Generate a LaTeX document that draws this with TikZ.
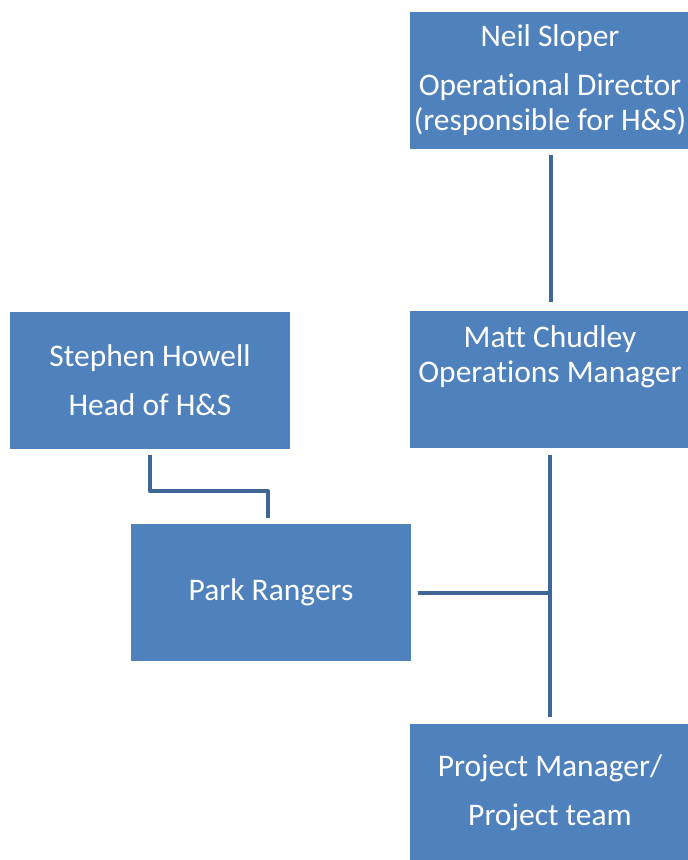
\documentclass[tikz,border=0pt]{standalone}
\usepackage{fontspec}
\setmainfont{Carlito}[Ligatures=NoCommon]
\usetikzlibrary{positioning,calc}
\definecolor{boxblue}{HTML}{4F81BD}
\definecolor{lineblue}{HTML}{3E6697}
\begin{document}
\begin{tikzpicture}[
        x=0.75pt, y=-0.75pt,
        block/.style={rectangle, draw=none, fill=boxblue, minimum width=210pt, minimum height=102.75pt, text=white, align=center, font=\fontsize{23.6}{26.25}\selectfont, inner sep=0pt},
        link/.style={draw=lineblue, line width=3pt, line join=round}
    ]
    \useasboundingbox (0,0) rectangle (687,860);
    
    \node[block] (director) at (550,80) {Neil Sloper\\[10.5pt]Operational Director\\(responsible for H\&S)};
    \node[block] (manager) at (550,379.5) {Matt Chudley\\Operations Manager\\[12pt]\mbox{}};
    \node[block] (hshead) at (150,380.5) {Stephen Howell\\[10.5pt]Head of H\&S};
    \node[block] (rangers) at (271,592.5) {Park Rangers};
    \node[block] (project) at (550,792.5) {Project Manager/\\[10.5pt]Project team};
    
    \coordinate (junction) at (manager.south |- rangers.east);
    
    \draw[link] ([shift={(1,6)}]director.south) -- ([shift={(1,-9)}]manager.north);
    \draw[link] ([shift={(0,7)}]manager.south) -- ([shift={(0,-7)}]project.north);
    \draw[link] ([shift={(7,0)}]rangers.east) -- (junction);
    \draw[link] ([shift={(0,6)}]hshead.south) -- ++(0,36) -| ([shift={(-3,-6)}]rangers.north);
    
\end{tikzpicture}
\end{document}
